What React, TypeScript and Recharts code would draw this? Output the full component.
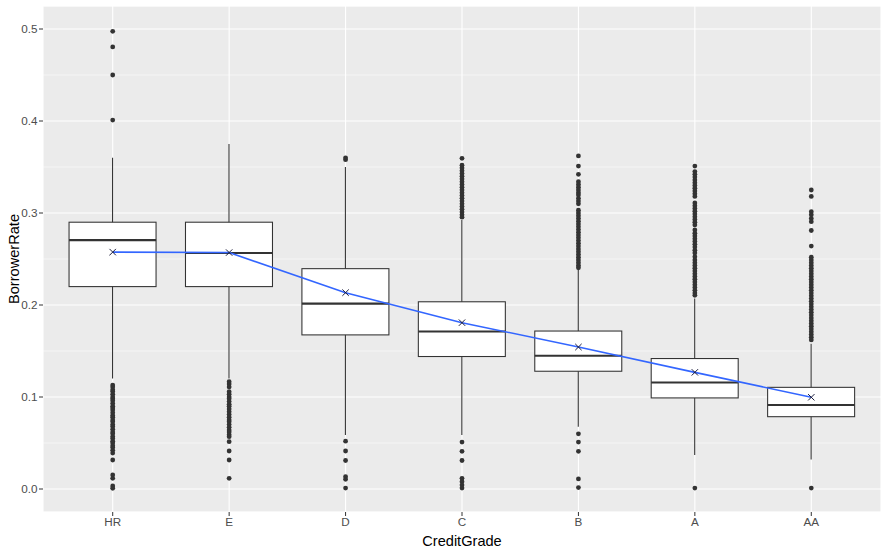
import React from 'react';
import { ComposedChart, Bar, Line, Scatter, XAxis, YAxis, CartesianGrid } from 'recharts';

const grades = ['HR', 'E', 'D', 'C', 'B', 'A', 'AA'];
const q1 = [0.22, 0.22, 0.1675, 0.144, 0.128, 0.099, 0.0786];
const medians = [0.2705, 0.2565, 0.2015, 0.1712, 0.1448, 0.1158, 0.0913];
const q3 = [0.29, 0.29, 0.2395, 0.2035, 0.1717, 0.1418, 0.1105];
const whiskerLow = [0.12, 0.12, 0.0587, 0.0587, 0.0677, 0.037, 0.032];
const whiskerHigh = [0.36, 0.375, 0.35, 0.2925, 0.238, 0.207, 0.158];
const means = [0.2575, 0.257, 0.2134, 0.1808, 0.1543, 0.1268, 0.0997];

const yTicks = [0, 0.1, 0.2, 0.3, 0.4, 0.5];
const yMinorTicks = [0.05, 0.15, 0.25, 0.35, 0.45];

const outliersHR = [0.4975, 0.4805, 0.45, 0.401,
  0.113, 0.111, 0.108, 0.106, 0.103, 0.1, 0.098, 0.096, 0.093, 0.09, 0.088, 0.086, 0.083, 0.08,
  0.078, 0.075, 0.073, 0.07, 0.068, 0.065, 0.062, 0.06, 0.057, 0.055, 0.052, 0.05, 0.047, 0.045,
  0.042, 0.039, 0.0315, 0.0152, 0.0116, 0.0033, 0.0008];
const outliersE = [0.1167, 0.114, 0.111, 0.1058, 0.103, 0.1, 0.098, 0.095, 0.092, 0.09, 0.087,
  0.084, 0.081, 0.078, 0.075, 0.073, 0.07, 0.067, 0.064, 0.062, 0.059, 0.0569, 0.0514, 0.0413,
  0.0315, 0.0116];
const outliersD = [0.36, 0.358, 0.052, 0.0413, 0.031, 0.0134, 0.0105, 0.001];
const outliersC = [0.3594, 0.352, 0.349, 0.346, 0.343, 0.34, 0.337, 0.334, 0.331, 0.328, 0.325,
  0.322, 0.319, 0.316, 0.313, 0.31, 0.307, 0.304, 0.301, 0.298, 0.2955,
  0.051, 0.041, 0.031, 0.0116, 0.008, 0.0043, 0.001];
const outliersB = [0.362, 0.351, 0.342, 0.334, 0.331, 0.328, 0.325, 0.322, 0.3196, 0.316, 0.313,
  0.31, 0.303, 0.3, 0.297, 0.294, 0.291, 0.288, 0.285, 0.282, 0.279, 0.276, 0.273, 0.27, 0.267,
  0.264, 0.261, 0.258, 0.255, 0.252, 0.249, 0.246, 0.243, 0.2405,
  0.06, 0.051, 0.041, 0.011, 0.0015];
const outliersA = [0.351, 0.345, 0.342, 0.339, 0.336, 0.333, 0.33, 0.327, 0.324, 0.321, 0.318,
  0.311, 0.308, 0.305, 0.302, 0.299, 0.296, 0.293, 0.29, 0.287, 0.2815, 0.278, 0.275, 0.272,
  0.269, 0.266, 0.263, 0.2595, 0.2565, 0.2525, 0.249, 0.246, 0.243, 0.24, 0.237, 0.234, 0.231,
  0.228, 0.225, 0.222, 0.219, 0.216, 0.213, 0.2105, 0.001];
const outliersAA = [0.325, 0.318, 0.3014, 0.298, 0.294, 0.2906, 0.281, 0.264, 0.252, 0.249,
  0.246, 0.243, 0.24, 0.237, 0.234, 0.231, 0.228, 0.225, 0.222, 0.219, 0.216, 0.213, 0.21, 0.207,
  0.204, 0.201, 0.198, 0.195, 0.192, 0.189, 0.186, 0.183, 0.18, 0.177, 0.174, 0.171, 0.168,
  0.165, 0.162, 0.001];

const outlierLists = [outliersHR, outliersE, outliersD, outliersC, outliersB, outliersA, outliersAA];

const tableData = grades.map((g, i) => ({
  grade: g,
  q1: q1[i],
  median: medians[i],
  q3: q3[i],
  whiskerLow: whiskerLow[i],
  whiskerHigh: whiskerHigh[i],
  range: [whiskerLow[i], whiskerHigh[i]],
  mean: means[i],
}));

const outlierPoints = grades.flatMap((g, i) => outlierLists[i].map((v) => ({ grade: g, rate: v })));

const BoxShape = (props: any) => {
  const { x, y, width, height, payload } = props;
  if (x == null || y == null) return null;
  const top = Math.min(y, y + height);
  const bottom = Math.max(y, y + height);
  const span = payload.whiskerHigh - payload.whiskerLow;
  const pix = (v: number) => top + ((payload.whiskerHigh - v) / span) * (bottom - top);
  const cx = x + width / 2;
  return (
    <g>
      <line x1={cx} x2={cx} y1={top} y2={bottom} stroke="#333333" strokeWidth={1.07} />
      <rect x={x} y={pix(payload.q3)} width={width} height={pix(payload.q1) - pix(payload.q3)}
        fill="#ffffff" stroke="#333333" strokeWidth={1.07} />
      <line x1={x} x2={x + width} y1={pix(payload.median)} y2={pix(payload.median)}
        stroke="#333333" strokeWidth={2.1} />
    </g>
  );
};

const XMark = (props: any) => {
  const { cx, cy, index } = props;
  if (cx == null || cy == null) return null;
  const s = 3.2;
  return (
    <g key={`xm-${index}`}>
      <line x1={cx - s} y1={cy - s} x2={cx + s} y2={cy + s} stroke="#1c1c3a" strokeWidth={1} />
      <line x1={cx - s} y1={cy + s} x2={cx + s} y2={cy - s} stroke="#1c1c3a" strokeWidth={1} />
    </g>
  );
};

const Dot = (props: any) => {
  const { cx, cy } = props;
  if (cx == null || cy == null) return null;
  return <circle cx={cx} cy={cy} r={2.4} fill="#333333" />;
};

const YTitle = (props: any) => {
  const { viewBox } = props;
  const x = viewBox.x + 14;
  const y = viewBox.y + viewBox.height / 2;
  return (
    <text x={x} y={y} transform={`rotate(-90 ${x} ${y})`} textAnchor="middle"
      dominantBaseline="central" fontSize={14.6} fill="#000000">BorrowerRate</text>
  );
};

const XTitle = (props: any) => {
  const { viewBox } = props;
  const x = viewBox.x + viewBox.width / 2;
  return (
    <text x={x} y={541} textAnchor="middle" dominantBaseline="central" fontSize={14.6} fill="#000000">
      CreditGrade
    </text>
  );
};

export default function App() {
  return (
    <div style={{ position: 'absolute', left: 0, top: 0, width: 891, height: 551, background: '#ffffff',
      fontFamily: '"Liberation Sans", Arial, sans-serif' }}>
      <ComposedChart width={891} height={551} data={tableData}
        margin={{ top: 6, right: 10, left: 0, bottom: 0 }} barCategoryGap="12.5%">
        <CartesianGrid fill="#EBEBEB" stroke="#ffffff" strokeWidth={1.1} />
        <CartesianGrid yAxisId="minor" vertical={false} stroke="#ffffff" strokeWidth={0.55} />
        <XAxis dataKey="grade" type="category" allowDuplicatedCategory={false}
          padding={{ left: 11.5, right: 11.5 }} height={39} axisLine={false}
          tickLine={{ stroke: '#333333' }} tickSize={4} tickMargin={2}
          tick={{ fill: '#4D4D4D', fontSize: 11.7 }} label={<XTitle />} />
        <YAxis type="number" domain={[-0.025, 0.525]} ticks={yTicks} allowDataOverflow width={43}
          axisLine={false} tickLine={{ stroke: '#333333' }} tickSize={4} tickMargin={1.5}
          tick={{ fill: '#4D4D4D', fontSize: 11.7 }} tickFormatter={(v: number) => v.toFixed(1)}
          label={<YTitle />} />
        <YAxis yAxisId="minor" type="number" domain={[-0.025, 0.525]} ticks={yMinorTicks}
          allowDataOverflow hide />
        <Bar dataKey="range" shape={<BoxShape />} isAnimationActive={false} />
        <Scatter data={outlierPoints} dataKey="rate" shape={<Dot />} isAnimationActive={false} />
        <Line dataKey="mean" stroke="#3366FF" strokeWidth={1.6} dot={<XMark />} activeDot={false}
          isAnimationActive={false} />
      </ComposedChart>
    </div>
  );
}
